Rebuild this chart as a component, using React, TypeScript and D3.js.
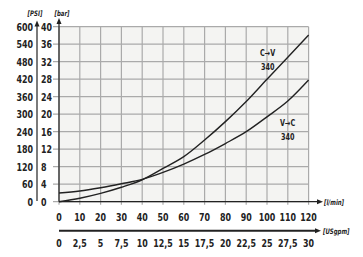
import React from "react";
import * as d3 from "d3";

const flow = [0, 10, 20, 30, 40, 50, 60, 70, 80, 90, 100, 110, 120];
const cvBar = [0, 0.8, 1.9, 3.3, 5.0, 7.6, 10.3, 14.1, 18.3, 22.9, 28, 33, 38.1];
const vcBar = [2.0, 2.45, 3.2, 4.1, 5.1, 6.7, 8.6, 10.8, 13.3, 16, 19.4, 23, 27.8];
const barTicks = [0, 4, 8, 12, 16, 20, 24, 28, 32, 36, 40];
const psiTicks = ["0", "60", "120", "180", "240", "300", "360", "420", "480", "540", "600"];
const lminTicks = [0, 10, 20, 30, 40, 50, 60, 70, 80, 90, 100, 110, 120];
const gpmTicks = ["0", "2,5", "5", "7,5", "10", "12,5", "15", "17,5", "20", "22,5", "25", "27,5", "30"];

const W = 363;
const H = 257;
const left = 59;
const right = 308.6;
const top = 26.7;
const bottom = 201.7;
const gpmY = 230.7;

const font = "'DejaVu Sans Condensed', 'Liberation Sans', sans-serif";

// narrow text: the source uses a condensed bold face
const T: React.FC<{
  x: number;
  y: number;
  size?: number;
  anchor?: "start" | "middle" | "end";
  italic?: boolean;
  sx?: number;
  children: React.ReactNode;
}> = ({ x, y, size = 11, anchor = "start", italic = false, sx = 0.8, children }) => (
  <text
    transform={`translate(${x},${y}) scale(${sx},1)`}
    dy="0.35em"
    fontSize={size}
    textAnchor={anchor}
    fontStyle={italic ? "italic" : "normal"}
    fill="#222"
  >
    {children}
  </text>
);

const App: React.FC = () => {
  const x = d3.scaleLinear().domain([0, 120]).range([left, right]);
  const y = d3.scaleLinear().domain([0, 40]).range([bottom, top]);

  const line = d3
    .line<number>()
    .x((d, i) => x(flow[i]))
    .y((d) => y(d))
    .curve(d3.curveMonotoneX);

  const arrow = (x1: number, y1: number, x2: number, y2: number, w: number) => {
    const horiz = y1 === y2;
    const head = horiz
      ? `M${x2},${y2} L${x2 - 6},${y2 - 2.5} L${x2 - 6},${y2 + 2.5} Z`
      : `M${x2},${y2} L${x2 - 2.5},${y2 + 6} L${x2 + 2.5},${y2 + 6} Z`;
    return (
      <g>
        <line x1={x1} y1={y1} x2={horiz ? x2 - 4 : x2} y2={horiz ? y2 : y2 + 4} stroke="#222" strokeWidth={w} />
        <path d={head} fill="#222" />
      </g>
    );
  };

  return (
    <svg
      width={W}
      height={H}
      style={{ position: "absolute", left: 0, top: 0, background: "#fff" }}
      fontFamily={font}
      fontWeight="bold"
    >
      <rect x={left} y={top} width={right - left} height={bottom - top} fill="#f4f4f2" />
      {lminTicks.map((t) => (
        <line key={"vx" + t} x1={x(t)} x2={x(t)} y1={top} y2={bottom + 3} stroke="#aaa" strokeWidth={1.2} />
      ))}
      {barTicks.map((t) => (
        <line key={"hy" + t} x1={left - 6} x2={right} y1={y(t)} y2={y(t)} stroke="#aaa" strokeWidth={1.2} />
      ))}

      <path d={line(cvBar) || ""} fill="none" stroke="#222" strokeWidth={1.4} />
      <path d={line(vcBar) || ""} fill="none" stroke="#222" strokeWidth={1.4} />

      {arrow(left, bottom, 323, bottom, 1.2)}
      {arrow(left, bottom, left, 18, 1.2)}
      {arrow(37, 201, 37, 20.5, 1.2)}
      {arrow(left, gpmY, 321, gpmY, 2)}

      {barTicks.map((t) => (
        <T key={"bl" + t} x={41} y={y(t)}>
          {t}
        </T>
      ))}
      {psiTicks.map((t, i) => (
        <T key={"pl" + t} x={33} y={y(barTicks[i])} anchor="end">
          {t}
        </T>
      ))}
      {lminTicks.map((t) => (
        <T key={"xl" + t} x={x(t)} y={217} anchor="middle">
          {t}
        </T>
      ))}
      {gpmTicks.map((t, i) => (
        <T key={"gl" + t} x={x(lminTicks[i])} y={243.5} anchor="middle">
          {t}
        </T>
      ))}

      <T x={35} y={13} size={7.5} italic anchor="middle">
        [PSI]
      </T>
      <T x={62} y={13} size={7.5} italic anchor="middle">
        [bar]
      </T>
      <T x={324} y={202} size={7.5} italic>
        [l/min]
      </T>
      <T x={323} y={231} size={7.5} italic>
        [USgpm]
      </T>

      <T x={267.7} y={53.3} size={9} anchor="middle">
        C→V
      </T>
      <T x={267.7} y={66.7} size={9} anchor="middle">
        340
      </T>
      <T x={287.7} y={123.3} size={9} anchor="middle">
        V→C
      </T>
      <T x={287.7} y={136.7} size={9} anchor="middle">
        340
      </T>
    </svg>
  );
};

export default App;
